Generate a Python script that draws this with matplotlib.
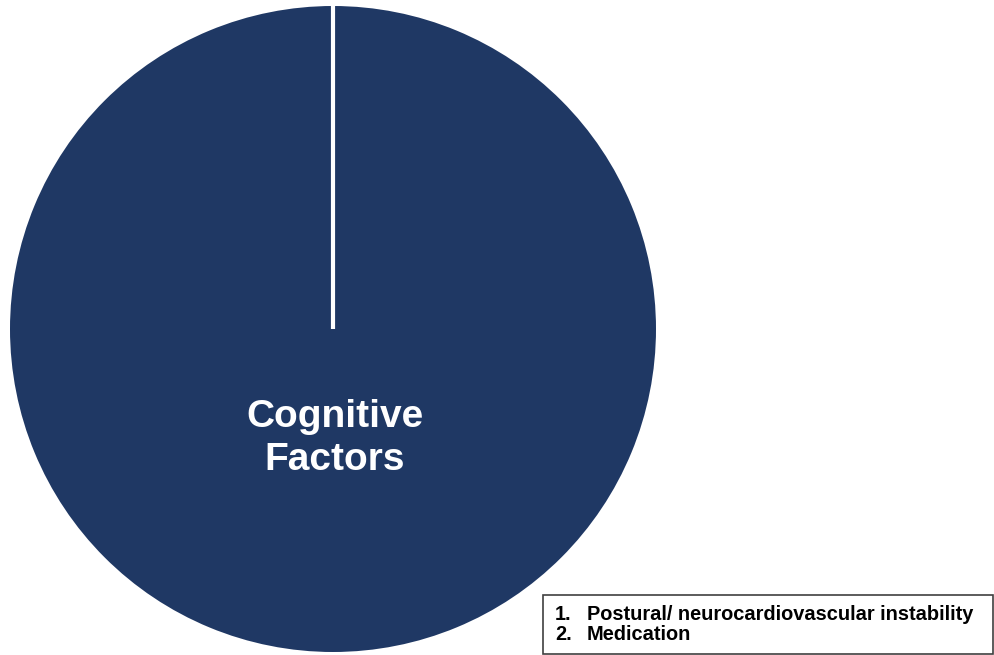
import matplotlib
matplotlib.use("Agg")
import matplotlib.pyplot as plt
from matplotlib.patches import Rectangle
import numpy as np

plt.rcParams['font.family'] = ['Liberation Sans', 'DejaVu Sans']

categories = ["Cognitive\nFactors"]
values = [100]
legend_numbers = ["1.", "2."]
legend_items = ["Postural/ neurocardiovascular instability", "Medication"]
pie_color = "#1f3864"

W, H = 995, 655
fig = plt.figure(figsize=(W / 100, H / 100), dpi=100)
fig.patch.set_facecolor("white")

# pie axes in pixel geometry: center (333, 329), radius 323
cx, cy, r = 333, 329, 323
ax = fig.add_axes([(cx - r) / W, (H - cy - r) / H, 2 * r / W, 2 * r / H])

wedges, texts = ax.pie(values, colors=[pie_color], startangle=90, radius=1,
                       wedgeprops=dict(edgecolor="none"))
ax.set_xlim(-1, 1)
ax.set_ylim(-1, 1)
ax.set_aspect("equal")
ax.axis("off")

w = wedges[0]
ang = np.deg2rad(w.theta1)
ax.plot([w.center[0], w.center[0] + w.r * np.cos(ang)],
        [w.center[1], w.center[1] + w.r * np.sin(ang)],
        color="white", lw=3, solid_capstyle="butt")

ax.text(0.005, -0.34, categories[0], ha="center", va="center", color="white",
        fontsize=28, fontweight="bold", linespacing=1.25)

# legend box
bx0, by0, bx1, by1 = 543, 595, 993, 654
fig.patches.append(Rectangle((bx0 / W, 1 - by1 / H), (bx1 - bx0) / W, (by1 - by0) / H,
                             transform=fig.transFigure, facecolor="white",
                             edgecolor="#404040", lw=1.2))
for i, (num, item) in enumerate(zip(legend_numbers, legend_items)):
    yy = 1 - (614 + 21 * i) / H
    fig.text(555 / W, yy, num, ha="left", va="center",
             fontsize=14.4, fontweight="bold", color="black")
    fig.text(587 / W, yy, item, ha="left", va="center",
             fontsize=14.4, fontweight="bold", color="black")

fig.savefig("out.png", dpi=100, facecolor="white")
